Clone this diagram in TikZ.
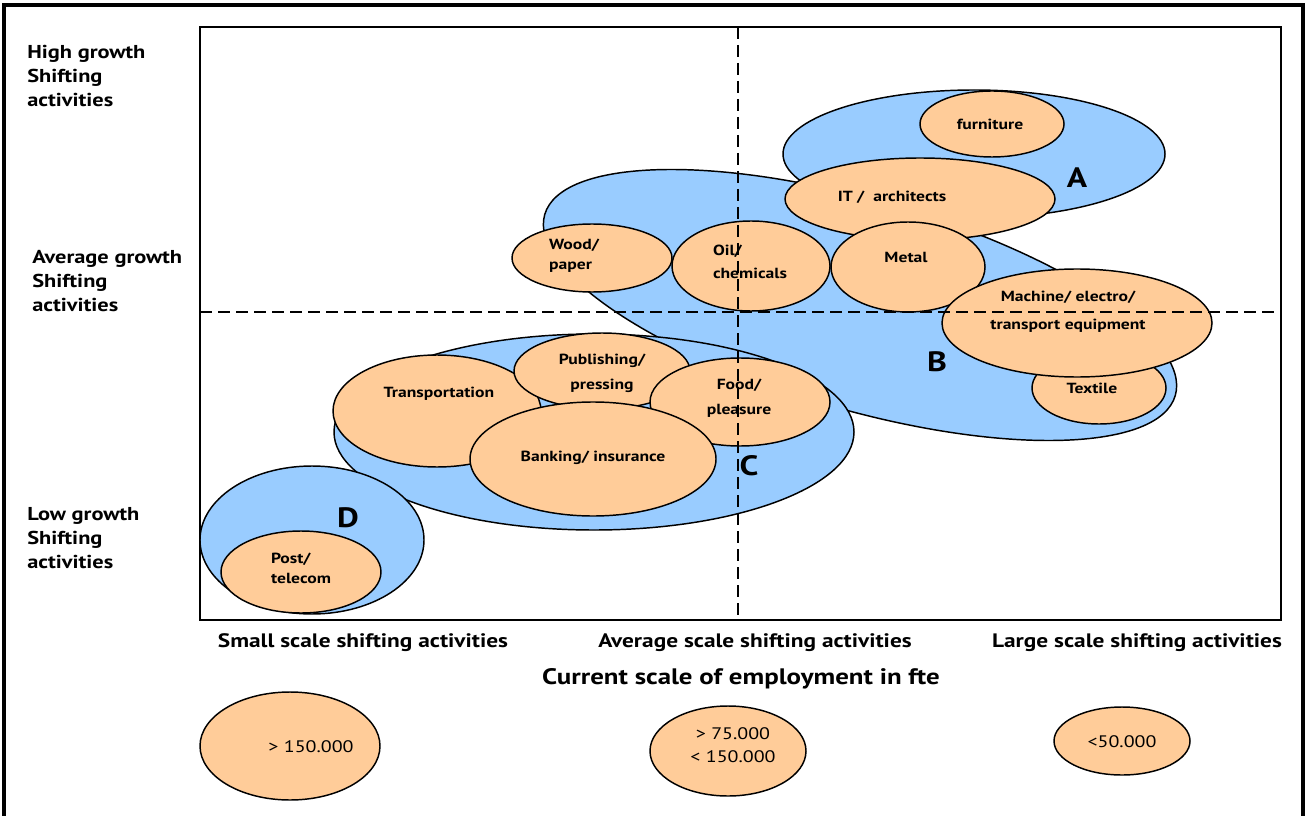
\documentclass[tikz,border=0pt]{standalone}
\usepackage{fontspec}
\setmainfont{PT Sans}[FakeStretch=1.2]
\usetikzlibrary{shapes.geometric}
\definecolor{clusterblue}{HTML}{99CCFF}
\definecolor{sectorpeach}{HTML}{FFCC99}
\tikzset{
  cluster/.style={fill=clusterblue,draw=black,line width=1.1pt},
  sector/.style={fill=sectorpeach,draw=black,line width=1.1pt},
  sectortext/.style={font=\fontsize{11}{15}\selectfont\bfseries,align=center,inner sep=0pt},
  legtext/.style={font=\fontsize{12.5}{17}\selectfont,align=center,inner sep=0pt},
  axistext/.style={font=\fontsize{14}{18}\selectfont\bfseries,align=left,inner sep=0pt,anchor=west},
  scaletext/.style={font=\fontsize{14.6}{18}\selectfont\bfseries,inner sep=0pt},
  clusterletter/.style={font=\fontsize{21}{24}\selectfont\bfseries,inner sep=0pt},
  quadrant/.style={dash pattern=on 9pt off 4.5pt,line width=1pt}
}
\begin{document}
\begin{tikzpicture}[x=0.75pt,y=-0.75pt]
\useasboundingbox[fill=white] (0,0) rectangle (1308,816);
% outer frame (open at the bottom)
\draw[line width=3pt] (4,816) -- (4,5) -- (1303,5) -- (1303,816);
% plot area
\draw[line width=1.3pt] (200,27) rectangle (1281,620);

% clusters
\path[cluster, rotate around={-16:(860,305)}] (860,305) ellipse [x radius=328, y radius=105];
\path[cluster] (974,154) ellipse [x radius=191, y radius=64];
\path[cluster] (594,432) ellipse [x radius=260, y radius=98];
\path[cluster] (312,540) ellipse [x radius=112, y radius=74];

% cluster A
\path[sector] (992,124) ellipse [x radius=72, y radius=33];
\path[sector] (920,199) ellipse [x radius=135, y radius=41];
% cluster B
\path[sector] (592,258) ellipse [x radius=80, y radius=34];
\path[sector] (751,266) ellipse [x radius=79, y radius=45];
\path[sector] (908,267) ellipse [x radius=77, y radius=45];
\path[sector] (1099,388) ellipse [x radius=67, y radius=36];
\path[sector] (1077,323) ellipse [x radius=135, y radius=54];
% cluster C
\path[sector] (437,411) ellipse [x radius=104, y radius=56];
\path[sector] (602,371) ellipse [x radius=88, y radius=38];
\path[sector] (740,402) ellipse [x radius=90, y radius=44];
\path[sector] (593,459) ellipse [x radius=123, y radius=57];
% cluster D
\path[sector] (301,572) ellipse [x radius=80, y radius=41];

% sector names
\node[sectortext] (furn) at (990,124) {furniture};
\node[sectortext] (itarch) at (892,197) {IT /\ \ architects};
\node[sectortext,align=left] (wood) at (574,256) {Wood/\\paper};
\node[sectortext,align=left] (oil) at (750,262) {Oil/\\[2pt]chemicals};
\node[sectortext] (metal) at (906,257) {Metal};
\node[sectortext] (mach) at (1068,312) {Machine/ electro/\\[6pt]transport equipment};
\node[sectortext] (textile) at (1092,388) {Textile};
\node[sectortext] (transp) at (439,394) {Transportation};
\node[sectortext] (publ) at (602,373) {Publishing/\\[4pt]pressing};
\node[sectortext] (food) at (739,398) {Food/\\[4pt]pleasure};
\node[sectortext] (bank) at (593,458) {Banking/ insurance};
\node[sectortext,align=left] (post) at (301,568) {Post/\\telecom};

% cluster letters
\node[clusterletter] (letA) at (1077,178) {A};
\node[clusterletter] (letB) at (937,362) {B};
\node[clusterletter] (letC) at (749,466) {C};
\node[clusterletter] (letD) at (348,518) {D};

% quadrant dividers
\draw[quadrant] (738,27) -- (738,615);
\draw[quadrant] (200,312) -- (1281,312);

% growth axis
\node[axistext] (high) at (27,76) {High growth\\Shifting\\activities};
\node[axistext] (avg) at (32,281) {Average growth\\Shifting\\activities};
\node[axistext] (low) at (27,538) {Low growth\\Shifting\\activities};

% scale axis
\node[scaletext] (small) at (363,643) {Small scale shifting activities};
\node[scaletext] (avgscale) at (755,643) {Average scale shifting activities};
\node[scaletext] (large) at (1137,643) {Large scale shifting activities};
\node[scaletext,font=\fontsize{16.8}{18}\selectfont\bfseries] (fte) at (741,679) {Current scale of employment in fte};

% size legend
\path[sector] (290,746) ellipse [x radius=90, y radius=54];
\path[sector] (728,751) ellipse [x radius=78, y radius=45];
\path[sector] (1122,741) ellipse [x radius=68, y radius=34];
\node[legtext] (big) at (311,747) {> 150.000};
\node[legtext] (mid) at (733,745) {> 75.000\\< 150.000};
\node[legtext] (sml) at (1122,742) {<50.000};
\end{tikzpicture}
\end{document}
